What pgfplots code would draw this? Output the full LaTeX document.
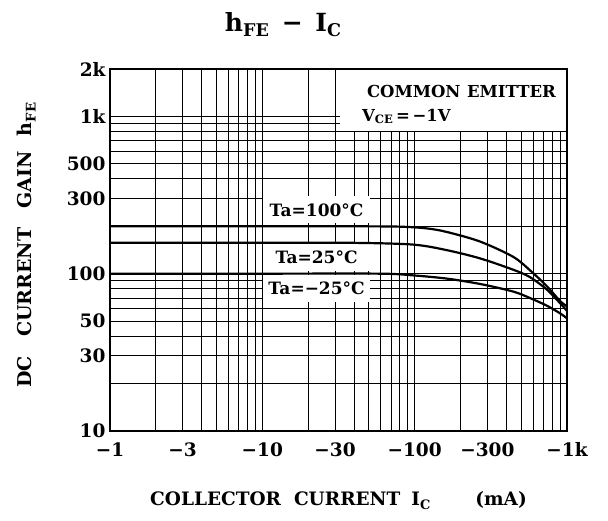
\documentclass[border=0pt]{standalone}
\usepackage{pgfplots}
\pgfplotsset{compat=1.18}
\usepackage{fontspec}
\setmainfont{DejaVu Serif}
\begin{document}
\begin{tikzpicture}
\useasboundingbox (-110pt,-90pt) rectangle (498pt,431pt);
\begin{axis}[
  at={(0,0)}, anchor=south west,
  scale only axis, width=457pt, height=362pt,
  xmode=log, ymode=log,
  xmin=1, xmax=1000, ymin=10, ymax=2000,
  xtick={1,3,10,30,100,300,1000},
  xticklabels={−1,−3,−10,−30,−100,−300,−1k},
  ytick={10,30,50,100,300,500,1000,2000},
  yticklabels={10,30,50,100,300,500,1k,2k},
  minor xtick={2,4,5,6,7,8,9,20,40,50,60,70,80,90,200,400,500,600,700,800,900},
  minor ytick={20,40,60,70,80,90,200,400,600,700,800,900},
  extra x ticks={10,100}, extra x tick labels={},
  extra x tick style={grid style={black!45, line width=2.2pt}},
  extra y ticks={1000}, extra y tick labels={},
  extra y tick style={grid style={black!45, line width=2.2pt}},
  grid=both,
  major grid style={black, line width=0.9pt},
  minor grid style={black, line width=0.9pt},
  major tick length=0pt, minor tick length=0pt,
  axis line style={line width=2.4pt},
  ticklabel style={font=\fontsize{18.5}{22}\selectfont\bfseries},
  xticklabel style={yshift=-8pt},
  yticklabel style={xshift=-1pt},
  clip=false,
]
% legend box
\fill[white] (rel axis cs:0.503,0.829) rectangle ([xshift=-1.3pt,yshift=-1.3pt]rel axis cs:1,1);
\node[anchor=base west, inner sep=0pt, font=\fontsize{16.5}{20}\selectfont\bfseries] at (rel axis cs:0.562,0.92) {COMMON\hspace{0.4em}EMITTER};
\node[anchor=base west, inner sep=0pt, font=\fontsize{16.5}{20}\selectfont\bfseries] at (rel axis cs:0.551,0.856) {V\textsubscript{CE}\,=\,−1V};
% curve labels
\node[fill=white, inner sep=0pt, minimum width=107pt, minimum height=27pt, font=\fontsize{17}{20}\selectfont\bfseries] at (rel axis cs:0.452,0.611) {Ta=100°C};
\node[fill=white, inner sep=0pt, minimum width=107pt, minimum height=28pt, font=\fontsize{17}{20}\selectfont\bfseries] at (rel axis cs:0.452,0.481) {Ta=25°C};
\node[fill=white, inner sep=0pt, minimum width=107pt, minimum height=27pt, font=\fontsize{17}{20}\selectfont\bfseries] at (rel axis cs:0.452,0.394) {Ta=−25°C};
% curves
\addplot[black, line width=2.2pt, smooth] coordinates {
(1,200) (10,200) (40,200) (80,199) (120,194) (163,184) (269,160) (443,128) (572,105) (740,83) (900,67) (1000,62)};
\addplot[black, line width=2.2pt, smooth] coordinates {
(1,157) (10,157) (40,157) (98,153) (163,141) (269,125) (443,106) (572,95) (740,79) (900,65) (1000,58)};
\addplot[black, line width=2.2pt, smooth] coordinates {
(1,100) (10,100) (59,100) (98,97.5) (163,93) (269,86) (443,77) (572,70) (740,62.5) (900,56) (1000,52)};
% title and axis labels
\node[anchor=base, font=\fontsize{25}{30}\selectfont\bfseries] at ([yshift=37pt]rel axis cs:0.379,1) {h\textsubscript{FE}\hspace{0.5em}−\hspace{0.5em}I\textsubscript{C}};
\node[anchor=base, font=\fontsize{18.5}{22}\selectfont\bfseries] at ([yshift=-75pt]rel axis cs:0.5,0) {COLLECTOR\hspace{0.7em}CURRENT\hspace{0.6em}I\textsubscript{C}\hspace{2.4em}(mA)};
\node[anchor=base, rotate=90, font=\fontsize{19}{22}\selectfont\bfseries] at ([xshift=-78pt]rel axis cs:0,0.514) {DC\hspace{1em}CURRENT\hspace{1em}GAIN\hspace{0.8em}h\textsubscript{FE}};
\end{axis}
\end{tikzpicture}
\end{document}
